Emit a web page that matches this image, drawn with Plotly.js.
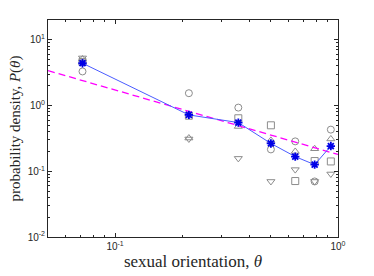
<!DOCTYPE html>
<html><head><meta charset="utf-8">
<script src="https://cdn.plot.ly/plotly-3.0.1.min.js"></script>
<style>html,body{margin:0;padding:0;background:#fff}#chart{width:374px;height:276px}</style>
</head><body><div id="chart"></div>
<script>
const theta = [0.0714, 0.2143, 0.3571, 0.5, 0.6429, 0.7857, 0.9286];
const avg = [4.4, 0.72, 0.55, 0.265, 0.167, 0.126, 0.242];
const sCircle = [3.3, 1.54, 0.93, 0.215, 0.285, 0.07, 0.43];
const sSquare = [4.6, 0.7, 0.64, 0.5, 0.071, 0.143, 0.141];
const sTriUp = [5.1, 0.32, 0.48, 0.295, 0.2, 0.22, 0.31];
const sTriDown = [5.3, 0.31, 0.157, 0.07, 0.106, 0.07, 0.091];
const fitX = [0.05, 1.0];
const fitY = [3.4, 0.18];

const gray = '#8c8c8c';
function grayTrace(y, sym) {
  return {x: theta, y: y, type: 'scatter', mode: 'markers',
    marker: {symbol: sym, size: 7, color: gray, line: {color: gray, width: 1}},
    showlegend: false, hoverinfo: 'skip'};
}
const traces = [
  grayTrace(sCircle, 'circle-open'),
  grayTrace(sSquare, 'square-open'),
  grayTrace(sTriUp, 'triangle-up-open'),
  grayTrace(sTriDown, 'triangle-down-open'),
  {x: fitX, y: fitY, type: 'scatter', mode: 'lines',
   line: {color: '#ff00ff', width: 1.3, dash: '7px,4px'}, showlegend: false},
  {x: theta, y: avg, type: 'scatter', mode: 'lines+markers',
   line: {color: '#4b5cff', width: 1},
   marker: {symbol: 'asterisk-open', size: 7, color: '#0000e6', line: {color: '#0000e6', width: 1.8}},
   showlegend: false}
];

function minorVals(lo, hi) {
  const v = [];
  for (let e = lo; e < hi; e++) for (let m = 2; m <= 9; m++) v.push(m * Math.pow(10, e));
  return v;
}
const tickFont = {family: 'Liberation Sans, Arial, sans-serif', size: 10, color: '#262626'};
const axBase = {
  type: 'log', showgrid: false, zeroline: false, showline: true, linecolor: '#262626', linewidth: 1,
  mirror: 'allticks', ticks: 'inside', ticklen: 4, tickcolor: '#262626', tickfont: tickFont
};
const layout = {
  width: 374, height: 276,
  margin: {l: 48, r: 36, t: 20, b: 39},
  paper_bgcolor: '#fff', plot_bgcolor: '#fff',
  xaxis: Object.assign({}, axBase, {
    range: [Math.log10(0.05), 0],
    tickvals: [0.1, 1], ticktext: ['10<sup>-1</sup>', '10<sup>0</sup>'],
    minor: {tickvals: minorVals(-2, 0), ticks: 'inside', ticklen: 2, tickcolor: '#262626'},
    title: {text: 'sexual orientation, <i>θ</i>', font: {family: 'Liberation Serif, DejaVu Serif, serif', size: 17, color: '#262626'}, standoff: 4}
  }),
  yaxis: Object.assign({}, axBase, {
    range: [-2, Math.log10(20)],
    tickvals: [0.01, 0.1, 1, 10], ticktext: ['10<sup>-2</sup>', '10<sup>-1</sup>', '10<sup>0</sup>', '10<sup>1</sup>'],
    minor: {tickvals: minorVals(-2, 2), ticks: 'inside', ticklen: 2, tickcolor: '#262626'},
    title: {text: 'probability density, <i>P</i>(<i>θ</i>)', font: {family: 'Liberation Serif, DejaVu Serif, serif', size: 15, color: '#262626'}, standoff: 3}
  })
};
Plotly.newPlot('chart', traces, layout, {staticPlot: true, displayModeBar: false});
</script></body></html>
